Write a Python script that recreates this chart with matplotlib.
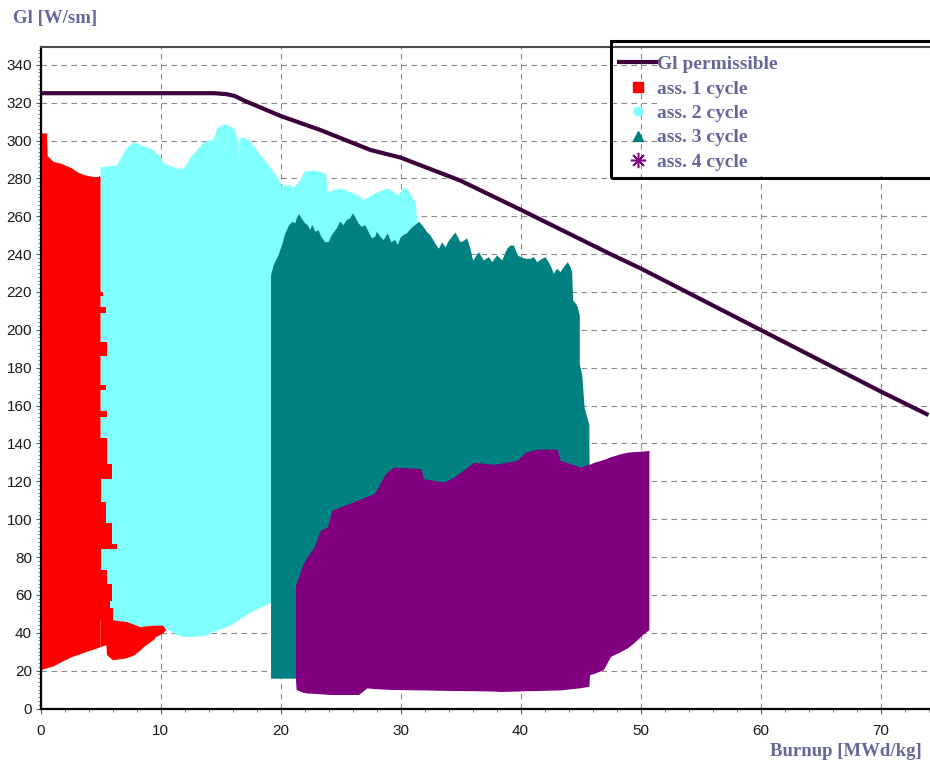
import matplotlib
matplotlib.use("Agg")
import matplotlib.pyplot as plt
from matplotlib.lines import Line2D
from matplotlib.patches import Rectangle
from matplotlib.ticker import MultipleLocator

# Permissible linear heat rate versus burnup
limit_burnup = [0, 14.5, 15.5, 16.2, 17, 20, 23.3, 27.5, 30, 35, 40, 47.5, 50, 60, 70, 74]
limit_gl = [325, 325, 324.5, 323.5, 321, 313, 305.6, 295, 291, 278.8, 263.5, 240, 232.5, 200, 167.5, 155]

# Assemblies in 1st cycle: main body, ragged right edge, low-power tail
c1_burnup = [0, 0.5, 0.55, 1.05, 1.7, 2.6, 3.05, 3.6, 4.4, 4.96]
c1_top = [304, 304, 292, 289, 288, 285.5, 283.5, 282, 281, 281]
c1_bottom = [20.5, 21.5, 21.6, 22.5, 24.7, 27.5, 28.4, 29.7, 31.4, 32.6]
c1_edge_gl = [47, 53, 57, 66, 73, 84, 87, 98, 109, 121, 129, 143, 154, 157, 168, 171, 186,
              193.5, 209, 212, 218, 220, 281]
c1_edge_burnup = [6.07, 5.8, 5.99, 5.57, 5.0, 6.4, 5.93, 5.46, 5.0, 5.93, 5.5, 4.96, 5.57, 4.96,
                  5.46, 4.96, 5.57, 4.96, 5.46, 4.96, 5.23, 4.96, 4.96]
c1_tail_burnup = [4.96, 5.45, 5.5, 6.0, 6.07, 7.1, 7.2, 7.8, 8.3, 8.6, 9.4, 9.6, 10.2, 10.4, 10.5]
c1_tail_top = [47, 47, 47, 47, 46.8, 46, 45.9, 44.5, 43.2, 43.5, 44.1, 44, 44, 42, 41.6]
c1_tail_bottom = [32.6, 33.7, 28.4, 25.8, 25.8, 26.7, 26.9, 28.4, 31, 32.8, 36.5, 38, 40, 41.5, 41.6]

# Assemblies in 2nd cycle
c2_burnup = [4.96, 6.3, 6.5, 7.1, 7.75, 8.3, 9.2, 9.8, 10.3, 11.4, 11.9, 12.5, 13.6, 14.4, 14.7,
             15.4, 16.1, 16.4, 16.45, 16.5, 16.55, 16.9, 17.5, 18.3, 19.2, 19.9, 20.0, 20.8, 21.1,
             21.7, 21.9, 22.8, 23.75, 23.9, 25, 26.4, 26.9, 27.8, 28.9, 29.8, 30.3, 30.7, 31.25, 31.35]
c2_top = [286.3, 287, 289, 296, 299.5, 297.7, 296, 292.6, 288, 285.4, 285.4, 291.6, 299.5, 301, 307,
          309, 306.5, 301, 301, 289, 301, 302, 299.5, 292.5, 285.4, 279, 276.5, 276.5, 275.5,
          280, 283.7, 284.5, 282.8, 273, 275, 271.4, 268.7, 272.3, 275, 271.4, 275.8, 273, 267, 256]
c2_bottom = [47, 46.5, 46.3, 46, 44.6, 43.2, 44, 44, 43, 39, 38, 38, 38.5, 40.7, 41.5,
             43, 45, 46.5, 46.7, 47, 47.2, 48.6, 51, 53.5, 56, 60, 60, 60, 60,
             60, 60, 60, 60, 60, 60, 60, 60, 60, 60, 60, 60, 60, 60, 60]

# Assemblies in 3rd cycle
c3_burnup = [19.17, 19.375, 19.79, 20.12, 20.35, 20.68, 20.96, 21.18, 21.3, 21.51,
             21.73, 22.01, 22.23, 22.43, 22.62, 22.85, 23.13, 23.35, 23.68, 23.96,
             24.24, 24.65, 24.93, 25.21, 25.49, 25.77, 25.99, 26.24, 26.46, 26.74,
             27.02, 27.29, 27.57, 27.85, 27.99, 28.27, 28.55, 28.9, 29.18, 29.52,
             29.74, 29.93, 30.21, 30.49, 30.85, 31.18, 31.51, 31.87, 32.15, 32.46,
             32.88, 33.15, 33.43, 33.71, 33.99, 34.54, 34.96, 35.24, 35.51, 35.79,
             36.01, 36.49, 36.9, 37.32, 37.6, 38.01, 38.43, 38.85, 39.13, 39.4,
             39.74, 39.96, 40.38, 40.79, 41.07, 41.35, 41.76, 42.04, 42.46, 42.74,
             43.01, 43.29, 43.57, 43.9, 44.13, 44.26, 44.35, 44.68, 44.9, 44.9,
             45.1, 45.3, 45.7, 45.7, 45.72]
c3_top = [229, 234.3, 239.6, 245.7, 251, 255.6, 257.4, 256.5, 259, 261.5,
          259, 256.5, 255.6, 253, 255.6, 252.1, 253, 249.5, 246.6, 246.6,
          250.4, 253.9, 257.4, 255.6, 258.3, 259.2, 261.9, 259.2, 256.5, 254.7,
          255.6, 252.1, 248.6, 249.5, 252.1, 249.5, 247.7, 251.2, 246.6, 247.7,
          245, 248.6, 250.4, 251.2, 253.9, 255.6, 257.4, 254.7, 252.1, 250.1,
          245.7, 243.1, 246.5, 243.9, 247.3, 251.7, 246.5, 247.3, 248.6, 243.1,
          236.9, 241.3, 236.9, 238.7, 236, 239.6, 236.9, 243.1, 244.8, 244.8,
          239.6, 238.7, 237.8, 237.8, 238.7, 236, 237.8, 238.7, 234.3, 229.9,
          232.5, 230.8, 233.4, 236, 233.4, 230.8, 215.8, 213.2, 208, 182,
          176.7, 159, 150, 139.7, 127]
c3_floor = 16

# Assemblies in 4th cycle
c4_burnup = [21.25, 21.3, 21.9, 22.2, 22.8, 23.3, 23.9, 24.3, 24.4, 26.4, 26.5, 27.2, 27.8, 28.75,
             29.4, 30, 31.7, 31.9, 33.6, 34.4, 36.1, 37.8, 38.3, 39.7, 40.4, 41.4, 43.06, 43.3,
             43.6, 45.0, 45.7, 45.75, 46.1, 46.9, 47.5, 48.3, 48.9, 49.4, 50.3, 50.7]
c4_top = [65, 66, 76.6, 80, 85.4, 94, 96, 104.7, 105, 110, 110.2, 112, 113.5, 124,
          127.5, 127.3, 126.7, 121.4, 119.6, 122, 130, 129, 129.5, 131, 135.4, 137, 137, 131,
          130.5, 127.5, 129, 129, 130, 131.5, 133, 134.5, 135.4, 135.7, 136, 136.3]
c4_bottom = [15, 10, 8.5, 8.2, 8, 7.8, 7.5, 7.4, 7.4, 7.4, 7.4, 10.9, 10.5, 10.2,
             10, 10, 9.8, 9.8, 9.6, 9.5, 9.4, 9.2, 9, 9.2, 9.4, 9.5, 9.8, 9.8,
             10, 11, 11.7, 17.9, 18.5, 20.5, 27.5, 30, 32, 34.5, 39.8, 41.6]

x_ticks = list(range(0, 80, 10))
y_ticks = list(range(0, 360, 20))

RED = "#ff0000"
CYAN = "#80ffff"
TEAL = "#008080"
PURPLE = "#800080"
LIMIT = "#3c003c"
TITLE = "#66669a"
W, H = 930, 762

plt.rcParams["font.family"] = ["Liberation Sans", "DejaVu Sans"]
fig = plt.figure(figsize=(W / 100, H / 100), dpi=100)
left_px, right_px, bottom_px, top_px = 40.5, 930, 708.5, 47
ax = fig.add_axes([left_px / W, 1 - bottom_px / H, (right_px - left_px) / W, (bottom_px - top_px) / H])
ax.set_xlim(0, 74.125)
ax.set_ylim(0, 349.4)

# Clouds of assembly states, later cycles drawn over earlier ones
ax.fill_between(c2_burnup, c2_bottom, c2_top, color=CYAN, lw=0, zorder=1)
ax.fill_between(c1_burnup, c1_bottom, c1_top, color=RED, lw=0, zorder=1.1)
ax.fill_betweenx(c1_edge_gl, 4.9, c1_edge_burnup, step="post", color=RED, lw=0, zorder=1.1)
ax.fill_between(c1_tail_burnup, c1_tail_bottom, c1_tail_top, color=RED, lw=0, zorder=1.1)
ax.fill_between(c3_burnup, c3_floor, c3_top, color=TEAL, lw=0, zorder=1.2)
ax.fill_between(c4_burnup, c4_bottom, c4_top, color=PURPLE, lw=0, zorder=1.3)

ax.plot(limit_burnup, limit_gl, color=LIMIT, lw=3.0, solid_capstyle="butt", zorder=2)

# Axes styling
ax.set_xticks(x_ticks)
ax.set_yticks(y_ticks)
ax.xaxis.set_minor_locator(MultipleLocator(2))
ax.yaxis.set_minor_locator(MultipleLocator(2))
ax.tick_params(which="major", direction="out", length=3.6, width=0.8, color="#606060",
               labelsize=11, labelcolor="#1a1a1a")
ax.tick_params(which="minor", direction="out", length=2.2, width=0.7, color="#808080")
ax.tick_params(axis="y", pad=2.5)
ax.tick_params(axis="x", pad=7.5)
ax.set_axisbelow(True)
ax.grid(True, which="major", color="#8a8a8a", lw=0.8, ls=(0, (5, 4)))
for side in ("left", "bottom"):
    ax.spines[side].set_linewidth(1.6)
    ax.spines[side].set_color("black")
ax.spines["top"].set_linewidth(1.5)
ax.spines["top"].set_color("#4a4a4a")
ax.spines["right"].set_visible(False)

# Legend: white text panel, transparent marker column, black frame
panel = Rectangle((657 / W, 1 - 176 / H), (935 - 657) / W, (176 - 42) / H,
                  transform=fig.transFigure, facecolor="white", edgecolor="none",
                  clip_on=False, zorder=2.4)
ax.add_patch(panel)
frame = Rectangle((611 / W, 1 - 177.5 / H), (940 - 611) / W, (177.5 - 40.5) / H,
                  transform=fig.transFigure, facecolor="none", edgecolor="black",
                  lw=2.2, clip_on=False, zorder=5)
ax.add_patch(frame)

handles = [
    Line2D([], [], color=LIMIT, lw=3.0, label="Gl permissible"),
    Line2D([], [], ls="none", marker="s", ms=7.5, color=RED, mec=RED, label="ass. 1 cycle"),
    Line2D([], [], ls="none", marker="8", ms=6.5, color=CYAN, mec=CYAN, label="ass. 2 cycle"),
    Line2D([], [], ls="none", marker="^", ms=7, color=TEAL, mec=TEAL, label="ass. 3 cycle"),
    Line2D([], [], ls="none", marker=(8, 2, 0), ms=11, color=PURPLE, mec=PURPLE, mew=1.1,
           label="ass. 4 cycle"),
]
leg = ax.legend(handles=handles, loc="upper left",
                bbox_to_anchor=(603 / W, 0.5, (937 - 603) / W, 1 - 40 / H - 0.5),
                bbox_transform=fig.transFigure, mode="expand", borderaxespad=0,
                frameon=False, borderpad=0.8,
                labelspacing=0.35, handlelength=2.0, handletextpad=0.0,
                prop={"family": "Liberation Serif", "weight": "bold", "size": 14})
for t in leg.get_texts():
    t.set_color(TITLE)
leg.set_zorder(5)

fig.text(13 / W, 1 - 19 / H, "Gl [W/sm]", ha="left", va="center", color=TITLE,
         family="Liberation Serif", fontweight="bold", fontsize=13.5)
fig.text(922 / W, 1 - 751 / H, "Burnup [MWd/kg]", ha="right", va="center", color=TITLE,
         family="Liberation Serif", fontweight="bold", fontsize=13.5)

fig.savefig("out.png", dpi=100)
